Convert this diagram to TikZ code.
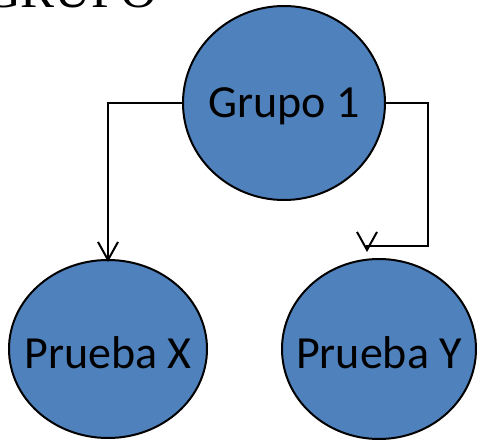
\documentclass[tikz,border=0pt]{standalone}
\usepackage{fontspec}
\setmainfont{Carlito}
\newfontfamily\titlefont{Liberation Serif}
\usetikzlibrary{arrows.meta,shapes.geometric}
\definecolor{bubbleblue}{HTML}{4F81BD}
\begin{document}
\begin{tikzpicture}[x=1pt, y=-1pt,
  line width=2pt, line join=miter,
  bubble/.style={ellipse, draw=black, fill=bubbleblue, inner sep=0pt},
  bubbletext/.style={font=\fontsize{46}{50}\selectfont, inner sep=0pt},
  link/.style={-{Straight Barb[length=18pt, width=20pt]}}]

  \useasboundingbox (0,0) rectangle (477,442);

  % Cut title
  \node [anchor=base west, inner sep=0pt, font=\titlefont\fontsize{51}{51}\selectfont]
    (titulo) at (-17,7) {GRUPO};

  % Draw ellipses
  \node [bubble, minimum width=202pt, minimum height=194pt] (grupo) at (284,103) {};
  \node [bubble, minimum width=198pt, minimum height=178pt] (px) at (108,349) {};
  \node [bubble, minimum width=194pt, minimum height=180pt] (py) at (379,349) {};

  % Labels
  \node [bubbletext, yshift=-3pt] (tgrupo) at (grupo) {Grupo 1};
  \node [bubbletext, yshift=-4pt] (tpx) at (px) {Prueba X};
  \node [bubbletext, yshift=-4pt] (tpy) at (py) {Prueba Y};

  % Connectors
  \coordinate (ytip) at (367,252);
  \draw [link] (grupo.west) -| ([yshift=-3pt]px.north);
  \draw [link] (grupo.east) -- (428,103) -- (428,246) -- (ytip |- 0,246) -- (ytip);

\end{tikzpicture}
\end{document}
